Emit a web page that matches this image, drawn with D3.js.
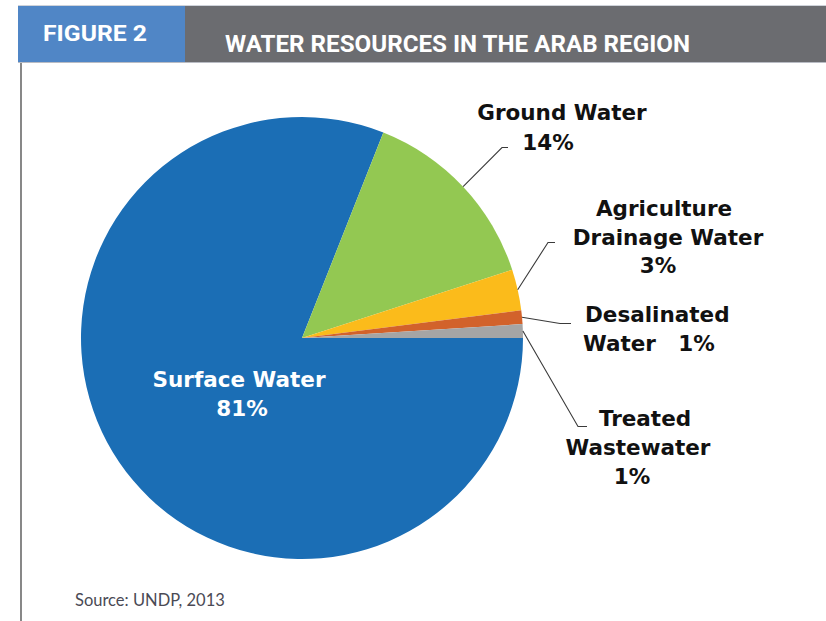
<!DOCTYPE html>
<html>
<head>
<meta charset="utf-8">
<script src="https://cdn.jsdelivr.net/npm/d3@7"></script>
<style>
  html, body { margin: 0; padding: 0; background: #fff; }
  svg { display: block; }
</style>
</head>
<body>
<svg id="chart" width="826" height="621"></svg>
<script>
// Water resources in the Arab region, share by source (%)
const categories = ["Surface Water", "Ground Water", "Agriculture Drainage Water", "Desalinated Water", "Treated Wastewater"];
const shares = [81, 14, 3, 1, 1];
const colors = ["#1b6eb5", "#93c852", "#fbbb1b", "#d2622b", "#a5a5a5"];

// Label text lines per slice
const labelLines = [
  ["Surface Water", "81%"],
  ["Ground Water", "14%"],
  ["Agriculture", "Drainage Water", "3%"],
  ["Desalinated", "Water\u00a0\u00a0 1%"],
  ["Treated", "Wastewater", "1%"]
];

const svg = d3.select("#chart");
const W = 826, H = 621;

// Header band
svg.append("line").attr("x1", 18).attr("x2", W).attr("y1", 5.5).attr("y2", 5.5)
  .attr("stroke", "#cfd3da").attr("stroke-width", 1);
svg.append("rect").attr("x", 185).attr("y", 6).attr("width", W - 185).attr("height", 56).attr("fill", "#6b6c70");
svg.append("rect").attr("x", 18).attr("y", 6).attr("width", 167).attr("height", 56).attr("fill", "#5086c6");
svg.append("line").attr("x1", 18).attr("x2", W).attr("y1", 62.5).attr("y2", 62.5)
  .attr("stroke", "#b9bcc4").attr("stroke-width", 1);
svg.append("line").attr("x1", 21).attr("x2", 21).attr("y1", 63).attr("y2", H)
  .attr("stroke", "#555", "").attr("stroke-width", 1.4);

svg.append("text").attr("x", 43).attr("y", 41)
  .attr("font-family", "'Liberation Sans Narrow', 'Roboto', sans-serif")
  .attr("font-weight", "bold").attr("font-size", 22.5).attr("fill", "#fff")
  .attr("textLength", 104).attr("lengthAdjust", "spacingAndGlyphs")
  .text("FIGURE 2");
svg.append("text").attr("x", 225).attr("y", 52)
  .attr("font-family", "'Liberation Sans Narrow', 'Roboto', sans-serif")
  .attr("font-weight", "bold").attr("font-size", 23.5).attr("fill", "#fff")
  .attr("textLength", 465).attr("lengthAdjust", "spacingAndGlyphs")
  .text("WATER RESOURCES IN THE ARAB REGION");

// Pie
const cx = 302, cy = 338, R = 221;
const pie = d3.pie().sort(null).value(d => d)
  .startAngle(Math.PI / 2).endAngle(Math.PI / 2 + 2 * Math.PI);
const arcs = pie(shares);
const arc = d3.arc().innerRadius(0).outerRadius(R);

const g = svg.append("g").attr("transform", `translate(${cx},${cy})`);
g.selectAll("path").data(arcs).join("path")
  .attr("d", arc)
  .attr("fill", (d, i) => colors[i]);

// Leader line elbows and label anchors (page coordinates)
const leaders = [
  null,
  { elbow: [502, 147.5], end: [508, 147.5] },
  { elbow: [548, 242.5], end: [555, 242.5] },
  { elbow: [560, 323.5], end: [571, 323.5] },
  { elbow: [578, 426.5], end: [587, 426.5] }
];
const labelPos = [
  { x: 239, y: 387, anchor: "middle", color: "#fff", dy: [0, 29], dx: [0, 3] },
  { x: 562, y: 120, anchor: "middle", color: "#111", dy: [0, 30], dx: [0, -14] },
  { x: 668, y: 216, anchor: "middle", color: "#111", dy: [0, 29, 57], dx: [-4, 0, -10] },
  { x: 585, y: 322, anchor: "start", color: "#111", dy: [0, 29], dx: [0, -2] },
  { x: 638, y: 426, anchor: "middle", color: "#111", dy: [0, 29, 58], dx: [7, 0, -6] }
];

arcs.forEach((a, i) => {
  const L = leaders[i];
  if (!L) return;
  const mid = (a.startAngle + a.endAngle) / 2;
  const sx = cx + R * Math.sin(mid), sy = cy - R * Math.cos(mid);
  svg.append("polyline")
    .attr("points", [[sx, sy], L.elbow, L.end].map(p => p.join(",")).join(" "))
    .attr("fill", "none").attr("stroke", "#3a3a3a").attr("stroke-width", 1.1);
});

labelLines.forEach((lines, i) => {
  const p = labelPos[i];
  const t = svg.append("text")
    .attr("font-family", "'DejaVu Sans', sans-serif")
    .attr("font-weight", "bold").attr("font-size", 21.5)
    .attr("fill", p.color).attr("text-anchor", p.anchor);
  lines.forEach((s, k) => {
    t.append("tspan").attr("x", p.x + p.dx[k]).attr("y", p.y + p.dy[k]).text(s);
  });
});

// Source note
svg.append("text").attr("x", 75).attr("y", 606)
  .attr("font-family", "'Lato', 'Open Sans', sans-serif")
  .attr("font-size", 16.5).attr("fill", "#4a4a55")
  .text("Source: UNDP, 2013");
</script>
</body>
</html>
